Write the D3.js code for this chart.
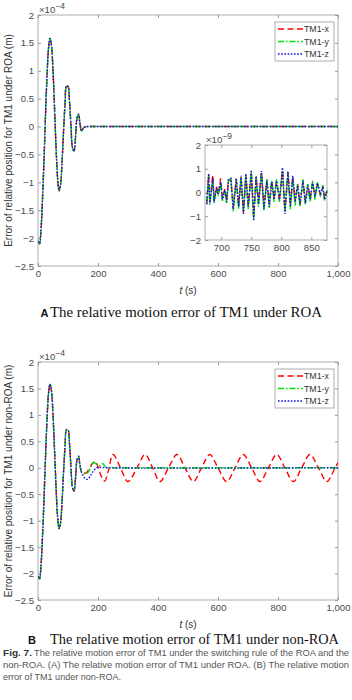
<!DOCTYPE html>
<html>
<head>
<meta charset="utf-8">
<script src="https://cdn.jsdelivr.net/npm/d3@7"></script>
<style>
  body { margin: 0; background: #fff; }
  svg { display: block; }
</style>
</head>
<body>
<div id="chart"></div>
<script>
// shared damped oscillation (all three axes overlap here), units of 1e-4 m
const headT = [0, 5, 10, 15, 20, 25, 30, 35, 40, 45, 50, 55, 60, 65, 70, 75, 80, 85, 90, 95,
  100, 105, 110, 115, 120, 125, 130, 135, 140, 145];
const headVal = [-2.05, -2.1, -1.85, -1.3, -0.6, 0.2, 0.9, 1.4, 1.58, 1.45, 1.0, 0.35, -0.35, -0.9, -1.15,
  -1.05, -0.65, -0.1, 0.4, 0.72, 0.72, 0.45, 0.0, -0.38, -0.44, -0.2, 0.15, 0.22, 0.05, -0.08];

// ROA: all settle to zero
const roaTailT = [150, 155, 165, 200, 1000];
const roaTail = [-0.04, -0.01, 0, 0, 0];

// non-ROA tails
const nrTailTx = [150, 160, 170, 180, 190, 200, 210, 222, 235, 250, 275, 300, 330, 357, 382, 407, 435, 463,
  490, 518, 545, 573, 600, 629, 657, 684, 712, 740, 768, 796, 823, 851, 879, 907, 935, 963, 990, 1000];
const nrTailX = [-0.08, -0.1, -0.02, 0.07, 0.12, 0.02, -0.15, -0.25, -0.05, 0.25, 0, -0.26, 0, 0.25, 0, -0.26,
  0, 0.25, 0, -0.26, 0, 0.25, 0, -0.26, 0, 0.25, 0, -0.26, 0, 0.25, 0, -0.26, 0, 0.25, 0, -0.26, 0, 0.1];
const nrTailTy = [150, 155, 165, 175, 185, 195, 205, 215, 225, 235, 260, 1000];
const nrTailY = [-0.1, -0.12, -0.1, 0, 0.1, 0.07, 0.04, 0.08, 0.02, 0, 0, 0];
const nrTailTz = [150, 157, 165, 175, 185, 195, 205, 230, 1000];
const nrTailZ = [-0.15, -0.2, -0.22, -0.15, -0.06, 0, 0.01, 0, 0];

// inset (ROA), units of 1e-9 m
const insetT = [676, 679, 681, 686, 688, 692, 695, 699, 702, 706, 709, 712, 716, 720, 725, 729, 733, 737, 741, 745,
  750, 754, 758, 762, 767, 771, 776, 780, 784, 788, 792, 797, 802, 806, 811, 815, 819, 823, 827, 831,
  836, 840, 844, 848, 852, 856, 860, 865, 869, 872, 876];
const insetX = [-0.45, 0.75, -0.4, 0.75, -0.35, 0.25, -0.05, 0.6, -0.25, 0.15, -0.35, 0.5, 0.55, -0.6, 0.55, -0.5,
  0.65, -0.85, 0.7, -0.55, 0.85, -1.0, 0.65, -0.45, 0.85, -0.6, 0.45, -0.5, 0.5, -0.25, 0.45, -0.35, 0.95, -0.8,
  0.85, -0.55, 0.65, -0.35, 0.35, -0.45, 0.45, -0.4, 0.35, -0.25, 0.4, -0.15, 0.35, -0.1, 0.25, -0.25, 0.05];
const insetY = [-0.4, 0.7, -0.45, 0.55, -0.45, 0.15, -0.15, 0.4, -0.35, 0.05, -0.45, 0.5, 0.6, -0.8, 0.55, -0.7,
  0.65, -0.75, 0.7, -0.7, 0.85, -1.1, 0.6, -0.6, 0.8, -0.75, 0.6, -0.65, 0.5, -0.4, 0.55, -0.4, 0.9, -0.8,
  0.8, -0.7, 0.6, -0.55, 0.35, -0.6, 0.55, -0.5, 0.35, -0.4, 0.5, -0.3, 0.45, -0.15, 0.3, -0.35, 0.1];
const insetZ = [-0.5, 0.8, -0.5, 0.6, -0.4, 0.2, -0.1, 0.45, -0.3, 0.1, -0.4, 0.55, 0.6, -0.7, 0.6, -0.6,
  0.7, -0.9, 0.8, -0.6, 0.95, -1.2, 0.7, -0.5, 0.9, -0.7, 0.5, -0.6, 0.45, -0.3, 0.5, -0.3, 1.05, -0.9,
  0.9, -0.6, 0.7, -0.4, 0.3, -0.5, 0.5, -0.45, 0.3, -0.3, 0.45, -0.2, 0.4, -0.05, 0.2, -0.3, 0.1];

const seriesNames = ["TM1-x", "TM1-y", "TM1-z"];
const xTicks = [0, 200, 400, 600, 800, 1000];
const yTicks = [2, 1.5, 1, 0.5, 0, -0.5, -1, -1.5, -2, -2.5];
const insetXTicks = [700, 750, 800, 850];
const insetYTicks = [2, 1, 0, -1, -2];

const styles = [
  { color: "#ff0000", dash: "6,3.5" },
  { color: "#00e000", dash: "6,2,1.5,2" },
  { color: "#1010e0", dash: "1.6,1.6" }
];

const zip = (ts, vs) => ts.map((t, i) => ({ t: t, v: vs[i] }));
const head = zip(headT, headVal);

const roaSeries = [0, 1, 2].map(() => head.concat(zip(roaTailT, roaTail)));
const nonRoaSeries = [
  head.concat(zip(nrTailTx, nrTailX)),
  head.concat(zip(nrTailTy, nrTailY)),
  head.concat(zip(nrTailTz, nrTailZ))
];
const insetSeries = [zip(insetT, insetX), zip(insetT, insetY), zip(insetT, insetZ)];

const W = 352, H = 700;
const svg = d3.select("#chart").append("svg").attr("width", W).attr("height", H);

const FONT = "'Liberation Sans', Arial, sans-serif";
const frameColor = "#9a9a9a";
const labelColor = "#4a4a4a";
const numFmt = d3.format("~g");

function drawAxes(g, x, y, xt, yt, xFmt, fs) {
  const [x0, x1] = x.range();
  const [y1, y0] = y.range();
  g.append("g").attr("transform", `translate(0,${y1})`)
    .call(d3.axisBottom(x).tickValues(xt).tickSizeInner(-3).tickSizeOuter(0).tickPadding(4).tickFormat(xFmt));
  g.append("g").attr("transform", `translate(${x0},0)`)
    .call(d3.axisLeft(y).tickValues(yt).tickSizeInner(-3).tickSizeOuter(0).tickPadding(4).tickFormat(numFmt));
  g.append("g").attr("transform", `translate(0,${y0})`)
    .call(d3.axisTop(x).tickValues(xt).tickSizeInner(-3).tickSizeOuter(0).tickFormat(""));
  g.append("g").attr("transform", `translate(${x1},0)`)
    .call(d3.axisRight(y).tickValues(yt).tickSizeInner(-3).tickSizeOuter(0).tickFormat(""));
  g.selectAll(".domain").remove();
  g.selectAll(".tick line").attr("stroke", frameColor);
  g.selectAll(".tick text").attr("fill", labelColor).style("font-family", FONT).style("font-size", fs + "px");
  g.append("rect").attr("x", x0).attr("y", y0).attr("width", x1 - x0).attr("height", y1 - y0)
    .attr("fill", "none").attr("stroke", frameColor).attr("stroke-width", 0.8);
}

function drawLines(g, series, x, y, curve) {
  const line = d3.line().x(d => x(d.t)).y(d => y(d.v)).curve(curve);
  series.forEach((s, i) => {
    g.append("path").datum(s).attr("d", line)
      .attr("fill", "none").attr("stroke", styles[i].color).attr("stroke-width", 1.4)
      .attr("stroke-dasharray", styles[i].dash);
  });
}

function drawExponent(g, xPos, yPos, exp, fs) {
  const t = g.append("text").attr("x", xPos).attr("y", yPos).attr("fill", labelColor)
    .style("font-family", FONT).style("font-size", fs + "px");
  t.append("tspan").text("\u00d710");
  t.append("tspan").attr("dy", -4).style("font-size", (fs - 1) + "px").text(exp);
}

function drawLegend(g, lx, ly) {
  g.append("rect").attr("x", lx).attr("y", ly).attr("width", 59).attr("height", 39)
    .attr("fill", "#fff").attr("stroke", frameColor).attr("stroke-width", 0.8);
  seriesNames.forEach((name, i) => {
    const yy = ly + 7 + i * 12.5;
    g.append("line").attr("x1", lx + 3).attr("x2", lx + 28).attr("y1", yy).attr("y2", yy)
      .attr("stroke", styles[i].color).attr("stroke-width", 1.4).attr("stroke-dasharray", styles[i].dash);
    g.append("text").attr("x", lx + 29).attr("y", yy + 3).attr("fill", "#333")
      .style("font-family", FONT).style("font-size", "8.8px").text(name);
  });
}

function drawPanel(cfg) {
  const g = svg.append("g");
  const x = d3.scaleLinear().domain([0, 1000]).range([38, 338]);
  const y = d3.scaleLinear().domain([-2.5, 2]).range([cfg.bottom, cfg.top]);
  const clipId = "clip" + cfg.id;
  g.append("clipPath").attr("id", clipId).append("rect")
    .attr("x", 38).attr("y", cfg.top).attr("width", 300).attr("height", cfg.bottom - cfg.top);
  drawAxes(g, x, y, xTicks, yTicks, d => d3.format(",")(d), 9.6);
  drawLines(g.append("g").attr("clip-path", `url(#${clipId})`), cfg.series, x, y, d3.curveCatmullRom);
  drawExponent(g, 39, cfg.top - 2, "\u22124", 9.6);
  drawLegend(g, 275, cfg.top + 7);

  g.append("text").attr("transform", `translate(12,${(cfg.top + cfg.bottom) / 2}) rotate(-90)`)
    .attr("text-anchor", "middle").attr("fill", "#333")
    .style("font-family", FONT).style("font-size", "10px").text(cfg.ylabel);

  const xl = g.append("text").attr("x", 188).attr("y", cfg.bottom + 28).attr("text-anchor", "middle")
    .attr("fill", "#333").style("font-family", FONT).style("font-size", "10px");
  xl.append("tspan").style("font-style", "italic").text("t");
  xl.append("tspan").text(" (s)");

  g.append("text").attr("x", cfg.capX).attr("y", cfg.capY).attr("fill", "#111")
    .style("font-family", FONT).style("font-weight", "bold").style("font-size", "11px").text(cfg.letter);
  g.append("text").attr("x", 50).attr("y", cfg.capY).attr("fill", "#111")
    .attr("textLength", cfg.capLen).attr("lengthAdjust", "spacingAndGlyphs")
    .style("font-family", "'Liberation Serif', 'Times New Roman', serif").style("font-size", "14.5px")
    .text(cfg.caption);
  return { g, x, y };
}

drawPanel({
  id: "A", top: 15, bottom: 266, series: roaSeries,
  ylabel: "Error of relative position for TM1 under ROA (m)",
  letter: "A", capX: 40.5, capY: 317, capLen: 272,
  caption: "The relative motion error of TM1 under ROA"
});

drawPanel({
  id: "B", top: 362, bottom: 600, series: nonRoaSeries,
  ylabel: "Error of relative position for TM1 under non-ROA (m)",
  letter: "B", capX: 28, capY: 644, capLen: 289,
  caption: "The relative motion error of TM1 under non-ROA"
});

// inset in panel A
const ig = svg.append("g");
const ix = d3.scaleLinear().domain([673, 876]).range([205, 327]);
const iy = d3.scaleLinear().domain([-2, 2]).range([240, 145]);
ig.append("rect").attr("x", 205).attr("y", 145).attr("width", 122).attr("height", 95).attr("fill", "#fff");
drawAxes(ig, ix, iy, insetXTicks, insetYTicks, d => d, 9.6);
drawLines(ig, insetSeries, ix, iy, d3.curveLinear);
drawExponent(ig, 206, 143, "\u22129", 9.6);

// figure caption, one text element per run so the fitted widths stay put
const capRuns = [
  { x: 3, line: 0, bold: true, text: "Fig. 7.", len: 29 },
  { x: 34, line: 0, bold: false, text: "The relative motion error of TM1 under the switching rule of the ROA and the", len: 315 },
  { x: 3, line: 1, bold: false, text: "non-ROA. (A) The relative motion error of TM1 under ROA. (B) The relative motion", len: 346 },
  { x: 3, line: 2, bold: false, text: "error of TM1 under non-ROA.", len: 118 }
];
capRuns.forEach(c => {
  svg.append("text").attr("x", c.x).attr("y", 656 + c.line * 12.2)
    .attr("textLength", c.len).attr("lengthAdjust", "spacingAndGlyphs")
    .attr("fill", c.bold ? "#333" : "#555")
    .style("font-family", FONT).style("font-size", "8.4px")
    .style("font-weight", c.bold ? "bold" : "normal")
    .text(c.text);
});
</script>
</body>
</html>
